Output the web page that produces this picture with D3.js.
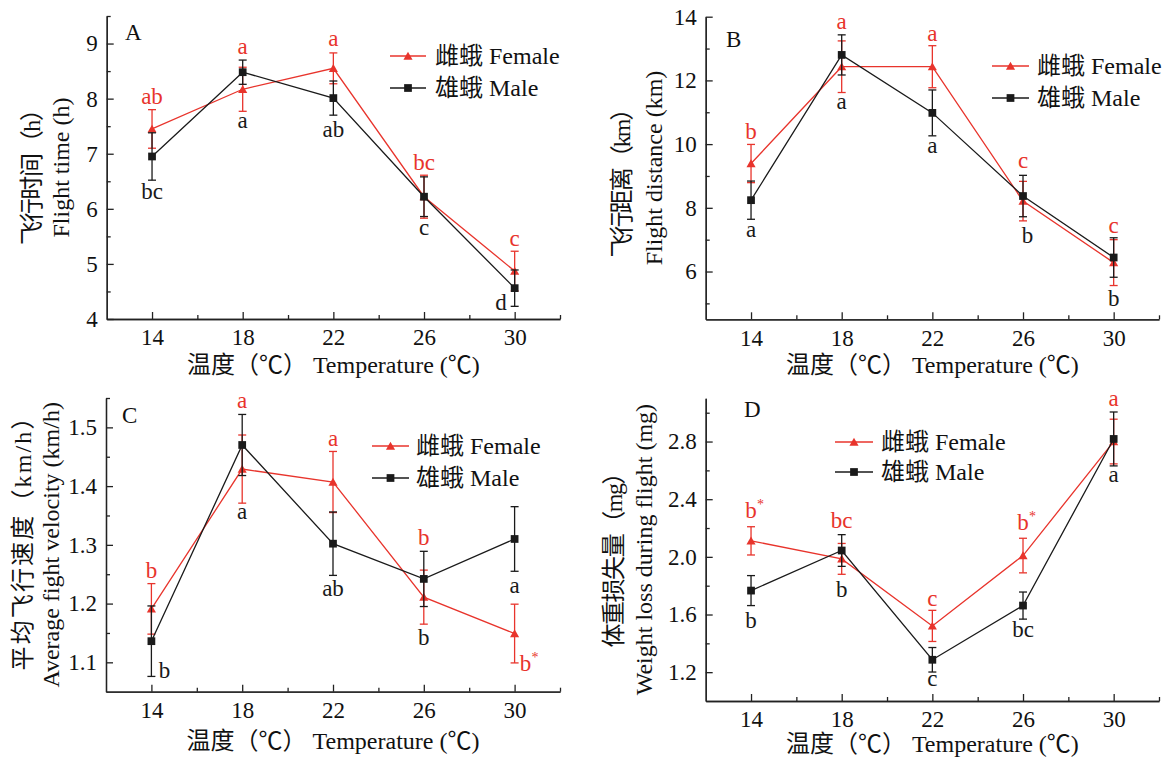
<!DOCTYPE html>
<html><head><meta charset="utf-8">
<script src="https://cdn.jsdelivr.net/npm/d3@7"></script>
<style>
body{margin:0;background:#fff}
</style></head><body>
<svg id="chart" width="1170" height="758"></svg>
<script>
// ---------- data ----------
const temps = [14, 18, 22, 26, 30];
const xTicks = [14, 18, 22, 26, 30];
const xMinorTicks = [16, 20, 24, 28, 32];
const legendFemale = "雌蛾 Female";
const legendMale = "雄蛾 Male";
const xTitle = "温度（℃） Temperature (℃)";

// Panel A: flight time (h)
const timeFemale = [7.45, 8.17, 8.55, 6.22, 4.87];
const timeFemaleErr = [0.35, 0.40, 0.28, 0.39, 0.36];
const timeMale = [6.95, 8.48, 8.01, 6.22, 4.56];
const timeMaleErr = [0.43, 0.22, 0.31, 0.36, 0.33];
const timeFemaleLetters = ["ab", "a", "a", "bc", "c"];
const timeFemaleLetterY = [7.90, 8.81, 8.95, 6.70, 5.32];
const timeFemaleLetterT = [14, 18, 22, 26, 30];
const timeMaleLetters = ["bc", "a", "ab", "c", "d"];
const timeMaleLetterY = [6.18, 7.47, 7.30, 5.52, 4.16];
const timeMaleLetterT = [14, 18, 22, 26, 29.4];
const timeYTicks = [4, 5, 6, 7, 8, 9];
const timeYMinor = [4.5, 5.5, 6.5, 7.5, 8.5, 9.5];

// Panel B: flight distance (km)
const distFemale = [9.39, 12.43, 12.43, 8.21, 6.28];
const distFemaleErr = [0.60, 0.81, 0.66, 0.62, 0.72];
const distMale = [8.24, 12.80, 10.98, 8.37, 6.44];
const distMaleErr = [0.60, 0.63, 0.72, 0.65, 0.62];
const distFemaleLetters = ["b", "a", "a", "c", "c"];
const distFemaleLetterY = [10.15, 13.61, 13.25, 9.24, 7.20];
const distFemaleLetterT = [14, 18, 22, 26, 30];
const distMaleLetters = ["a", "a", "a", "b", "b"];
const distMaleLetterY = [7.09, 11.10, 9.73, 6.88, 4.92];
const distMaleLetterT = [14, 18, 22, 26.2, 30];
const distYTicks = [6, 8, 10, 12, 14];
const distYMinor = [5, 7, 9, 11, 13];

// Panel C: average flight velocity (km/h)
const velFemale = [1.191, 1.429, 1.407, 1.211, 1.149];
const velFemaleErr = [0.043, 0.058, 0.052, 0.046, 0.050];
const velMale = [1.136, 1.470, 1.302, 1.242, 1.310];
const velMaleErr = [0.060, 0.052, 0.054, 0.047, 0.055];
const velFemaleLetters = ["b", "a", "a", "b", "b*"];
const velFemaleLetterY = [1.244, 1.533, 1.469, 1.299, 1.086];
const velFemaleLetterT = [14, 18, 22, 26, 30.48];
const velMaleLetters = ["b", "a", "ab", "b", "a"];
const velMaleLetterY = [1.073, 1.344, 1.213, 1.130, 1.218];
const velMaleLetterT = [14.58, 18, 22, 26, 30];
const velYTicks = [1.1, 1.2, 1.3, 1.4, 1.5];
const velYMinor = [1.15, 1.25, 1.35, 1.45, 1.55];

// Panel D: weight loss during flight (mg)
const wlFemale = [2.111, 1.986, 1.521, 2.009, 2.80];
const wlFemaleErr = [0.098, 0.107, 0.108, 0.120, 0.155];
const wlMale = [1.766, 2.044, 1.286, 1.662, 2.818];
const wlMaleErr = [0.104, 0.110, 0.085, 0.094, 0.187];
const wlFemaleLetters = ["b*", "bc", "c", "b*", "a"];
const wlFemaleLetterY = [2.268, 2.203, 1.662, 2.183, 3.047];
const wlFemaleLetterT = [14, 18, 22, 26, 30];
const wlMaleLetters = ["b", "b", "c", "bc", "a"];
const wlMaleLetterY = [1.505, 1.720, 1.101, 1.443, 2.516];
const wlMaleLetterT = [14, 18, 22, 26, 30];
const wlYTicks = [1.2, 1.6, 2.0, 2.4, 2.8];
const wlYMinor = [1.4, 1.8, 2.2, 2.6, 3.0];

// ---------- style ----------
const FONT = '"Liberation Serif", "Times New Roman", "Noto Sans CJK SC", serif';
const RED = "#e8342c";
const BLACK = "#1a1a1a";
const AXIS = "#222";

const svg = d3.select("#chart");

const panels = [
  { label: "A", left: 106.7, right: 560, bottom: 319, top: 16, yDomain: [4, 9.5],
    yTicks: timeYTicks, yMinor: timeYMinor, fmt: d3.format("d"),
    f: timeFemale, fe: timeFemaleErr, m: timeMale, me: timeMaleErr,
    fl: timeFemaleLetters, fly: timeFemaleLetterY, flt: timeFemaleLetterT,
    ml: timeMaleLetters, mly: timeMaleLetterY, mlt: timeMaleLetterT,
    labelPos: [125, 40], legend: { x0: 390, x1: 426, tx: 435, yF: 56, yM: 88 },
    xTitleY: 373, yTitleCn: "飞行时间（h）", yTitleEn: "Flight time (h)",
    yCnX: 40, yCnY: 171, yCnLen: 148, yEnX: 69 },
  { label: "B", left: 705.7, right: 1159, bottom: 319.3, top: 16.7, yDomain: [4.5, 14],
    yTicks: distYTicks, yMinor: distYMinor, fmt: d3.format("d"),
    f: distFemale, fe: distFemaleErr, m: distMale, me: distMaleErr,
    fl: distFemaleLetters, fly: distFemaleLetterY, flt: distFemaleLetterT,
    ml: distMaleLetters, mly: distMaleLetterY, mlt: distMaleLetterT,
    labelPos: [726, 47], legend: { x0: 992, x1: 1029, tx: 1037, yF: 66, yM: 98 },
    xTitleY: 373, yTitleCn: "飞行距离（km）", yTitleEn: "Flight distance (km)",
    yCnX: 630, yCnY: 177, yCnLen: 161, yEnX: 662 },
  { label: "C", left: 106, right: 560, bottom: 691.7, top: 398, yDomain: [1.05, 1.55],
    yTicks: velYTicks, yMinor: velYMinor, fmt: d3.format(".1f"),
    f: velFemale, fe: velFemaleErr, m: velMale, me: velMaleErr,
    fl: velFemaleLetters, fly: velFemaleLetterY, flt: velFemaleLetterT,
    ml: velMaleLetters, mly: velMaleLetterY, mlt: velMaleLetterT,
    labelPos: [122, 423], legend: { x0: 372, x1: 409, tx: 416, yF: 446, yM: 478 },
    xTitleY: 749, yTitleCn: "平均飞行速度（km/h）", yTitleEn: "Average fight velocity (km/h)",
    yCnX: 31, yCnY: 538, yCnLen: 265, yEnX: 59 },
  { label: "D", left: 705.7, right: 1159, bottom: 701, top: 398.3, yDomain: [1.0, 3.1],
    yTicks: wlYTicks, yMinor: wlYMinor, fmt: d3.format(".1f"),
    f: wlFemale, fe: wlFemaleErr, m: wlMale, me: wlMaleErr,
    fl: wlFemaleLetters, fly: wlFemaleLetterY, flt: wlFemaleLetterT,
    ml: wlMaleLetters, mly: wlMaleLetterY, mlt: wlMaleLetterT,
    labelPos: [744, 417], legend: { x0: 835, x1: 873, tx: 881, yF: 442, yM: 472 },
    xTitleY: 752, yTitleCn: "体重损失量（mg）", yTitleEn: "Weight loss during flight (mg)",
    yCnX: 622, yCnY: 554, yCnLen: 187, yEnX: 652 }
];

function styleAxis(sel) {
  sel.attr("font-family", FONT).attr("font-size", 23);
  sel.selectAll(".domain").attr("stroke", AXIS).attr("stroke-width", 1.3);
  sel.selectAll(".tick line").attr("stroke", AXIS).attr("stroke-width", 1.3);
  sel.selectAll(".tick text").attr("fill", "#111");
}

function drawPanel(p) {
  const g = svg.append("g");
  const x = d3.scaleLinear().domain([12, 32]).range([p.left, p.right]);
  const y = d3.scaleLinear().domain(p.yDomain).range([p.bottom, p.top]);

  // minor ticks
  g.append("g").attr("transform", `translate(0,${p.bottom})`)
    .call(d3.axisBottom(x).tickValues(xMinorTicks).tickSize(-4).tickSizeOuter(0).tickFormat(""))
    .call(styleAxis);
  g.append("g").attr("transform", `translate(${p.left},0)`)
    .call(d3.axisLeft(y).tickValues(p.yMinor).tickSize(-4).tickSizeOuter(0).tickFormat(""))
    .call(styleAxis);
  // major ticks
  g.append("g").attr("transform", `translate(0,${p.bottom})`)
    .call(d3.axisBottom(x).tickValues(xTicks).tickSize(-7).tickSizeOuter(0).tickPadding(10).tickFormat(d3.format("d")))
    .call(styleAxis);
  g.append("g").attr("transform", `translate(${p.left},0)`)
    .call(d3.axisLeft(y).tickValues(p.yTicks).tickSize(-7).tickSizeOuter(0).tickPadding(9).tickFormat(p.fmt))
    .call(styleAxis);

  function series(vals, errs, color, shape) {
    const s = g.append("g");
    const cap = 4;
    vals.forEach((v, i) => {
      const cx = x(temps[i]);
      const y1 = y(v + errs[i]), y2 = y(v - errs[i]);
      s.append("line").attr("x1", cx).attr("x2", cx).attr("y1", y1).attr("y2", y2)
        .attr("stroke", color).attr("stroke-width", 1.3);
      [y1, y2].forEach(yy => s.append("line").attr("x1", cx - cap).attr("x2", cx + cap)
        .attr("y1", yy).attr("y2", yy).attr("stroke", color).attr("stroke-width", 1.3));
    });
    s.append("path").datum(vals)
      .attr("d", d3.line().x((d, i) => x(temps[i])).y(d => y(d)))
      .attr("fill", "none").attr("stroke", color).attr("stroke-width", 1.3);
    const sym = shape === "tri" ? d3.symbol().type(d3.symbolTriangle).size(36)
                                : d3.symbol().type(d3.symbolSquare).size(60);
    s.selectAll("path.mk").data(vals).join("path").attr("class", "mk")
      .attr("d", sym).attr("fill", color)
      .attr("transform", (d, i) => `translate(${x(temps[i])},${y(d) + (shape === "tri" ? 1 : 0)})`);
  }

  function letters(txts, ys, ts, color) {
    txts.forEach((t, i) => {
      const star = t.endsWith("*");
      const base = star ? t.slice(0, -1) : t;
      const cx = x(ts[i]), cy = y(ys[i]);
      g.append("text").attr("x", cx).attr("y", cy).attr("text-anchor", "middle")
        .attr("font-family", FONT).attr("font-size", 23).attr("fill", color).text(base);
      if (star) {
        g.append("text").attr("x", cx + 6).attr("y", cy - 9).attr("text-anchor", "start")
          .attr("font-family", FONT).attr("font-size", 14).attr("fill", color).text("*");
      }
    });
  }

  series(p.f, p.fe, RED, "tri");
  series(p.m, p.me, BLACK, "sq");
  letters(p.fl, p.fly, p.flt, RED);
  letters(p.ml, p.mly, p.mlt, BLACK);

  // panel label
  g.append("text").attr("x", p.labelPos[0]).attr("y", p.labelPos[1])
    .attr("font-family", FONT).attr("font-size", 23).attr("fill", "#111").text(p.label);

  // legend
  const L = p.legend;
  [[legendFemale, L.yF, RED, "tri"], [legendMale, L.yM, BLACK, "sq"]].forEach(([txt, ly, c, shp]) => {
    g.append("line").attr("x1", L.x0).attr("x2", L.x1).attr("y1", ly).attr("y2", ly)
      .attr("stroke", c).attr("stroke-width", 1.3);
    const sym = shp === "tri" ? d3.symbol().type(d3.symbolTriangle).size(36)
                              : d3.symbol().type(d3.symbolSquare).size(60);
    g.append("path").attr("d", sym).attr("fill", c)
      .attr("transform", `translate(${(L.x0 + L.x1) / 2},${ly + (shp === "tri" ? 1 : 0)})`);
    g.append("text").attr("x", L.tx).attr("y", ly + 8).attr("font-family", FONT)
      .attr("font-size", 24).attr("fill", "#111").text(txt);
  });

  // axis titles
  g.append("text").attr("x", (p.left + p.right) / 2).attr("y", p.xTitleY)
    .attr("text-anchor", "middle").attr("font-family", FONT).attr("font-size", 24)
    .attr("fill", "#111").text(xTitle);
  const cy = (p.top + p.bottom) / 2;
  g.append("text").attr("transform", `translate(${p.yCnX},${p.yCnY}) rotate(-90)`)
    .attr("text-anchor", "middle").attr("font-family", FONT).attr("font-size", 24)
    .attr("textLength", p.yCnLen).attr("lengthAdjust", "spacing")
    .attr("fill", "#111").text(p.yTitleCn);
  g.append("text").attr("transform", `translate(${p.yEnX},${cy}) rotate(-90)`)
    .attr("text-anchor", "middle").attr("font-family", FONT).attr("font-size", 24)
    .attr("fill", "#111").text(p.yTitleEn);
}

panels.forEach(drawPanel);
</script>
</body></html>
